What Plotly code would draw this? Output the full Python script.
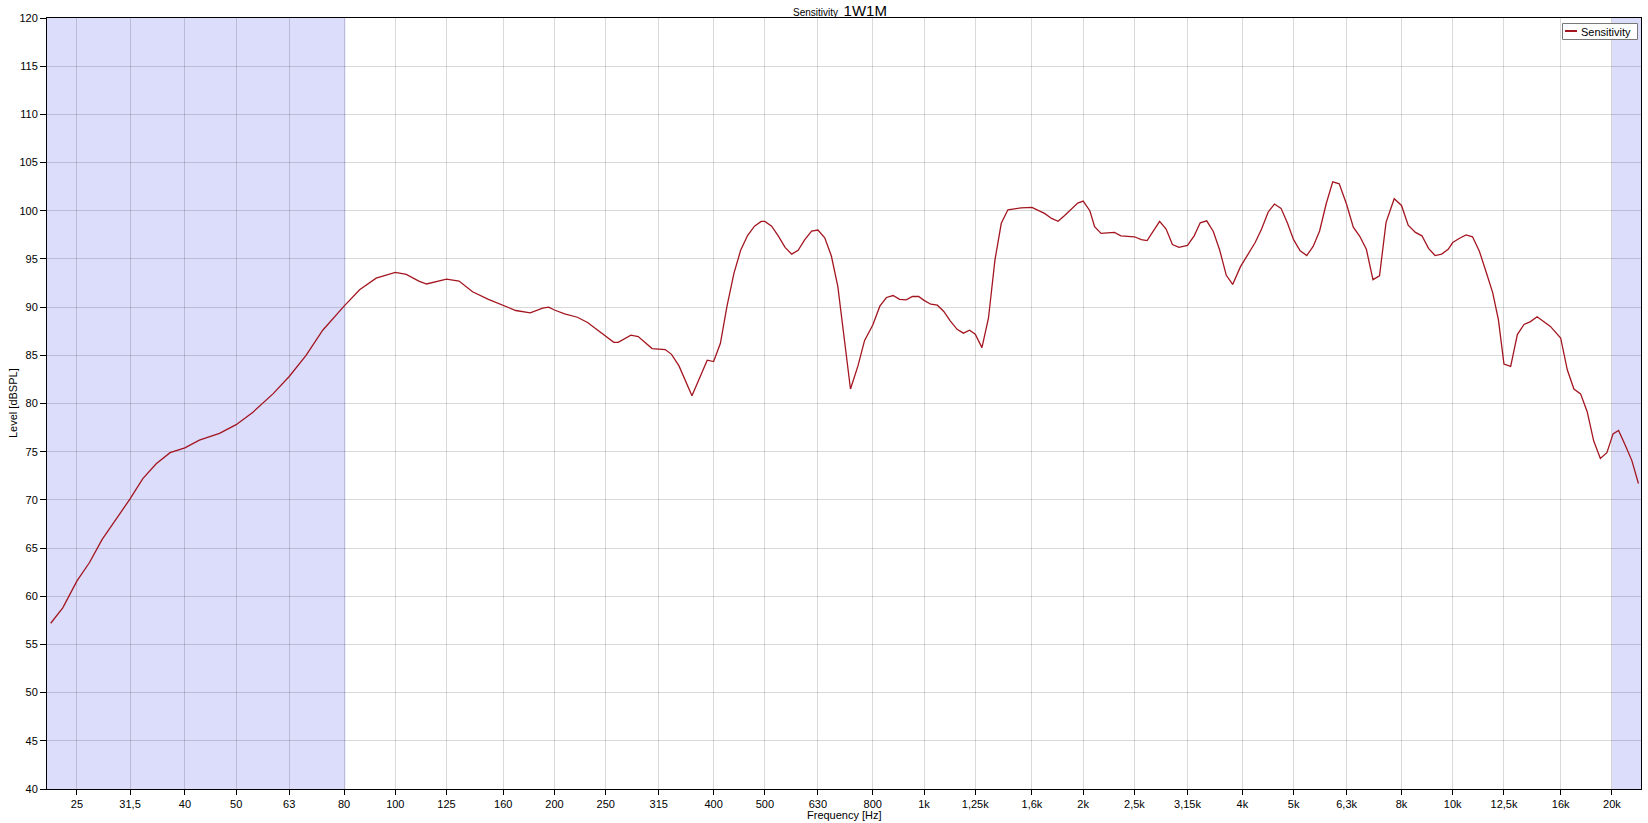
import numpy as np
import plotly.graph_objects as go

# ---------------- data ----------------
freq_hz = [
    22.3, 23.5, 25, 26.4, 27.9, 29.7, 31.5, 33.3, 35.3, 37.5, 40, 42.6, 46.5, 50, 53.8, 58.7,
    63, 67.8, 72.9, 80, 85.6, 92, 100, 104.9, 110.8, 114.6, 120, 125, 132, 140, 150, 160,
    169, 180, 190, 195, 200, 209, 221, 231, 243, 250, 259, 264, 279, 288, 306, 324, 333,
    344, 364, 389, 400, 412, 424, 437, 450, 464, 478, 492, 500, 515, 530, 546, 562, 578,
    595, 613, 630, 649, 668, 687, 707, 726, 750, 772, 800, 825, 849, 874, 899, 925, 951,
    977, 1000, 1030, 1060, 1090, 1120, 1155, 1187, 1220, 1250, 1287, 1324, 1362, 1400,
    1441, 1483, 1526, 1600, 1645, 1693, 1743, 1793, 1845, 1898, 1953, 2000, 2059, 2102,
    2162, 2222, 2292, 2357, 2500, 2576, 2642, 2790, 2870, 2950, 3035, 3150, 3243, 3330,
    3425, 3525, 3625, 3730, 3835, 3968, 4111, 4230, 4350, 4475, 4600, 4735, 4870, 5000,
    5146, 5295, 5445, 5600, 5765, 5930, 6100, 6300, 6485, 6670, 6865, 7065, 7270, 7480,
    7750, 8000, 8236, 8500, 8745, 9000, 9260, 9530, 9805, 10000, 10300, 10600, 10900,
    11230, 11550, 11900, 12200, 12500, 12870, 13250, 13640, 14030, 14440, 14860, 15300,
    16000, 16470, 16950, 17450, 17960, 18480, 19020, 19570, 20100, 20590, 21190, 21810,
    22450,
]
level_db = [
    57.2, 58.8, 61.6, 63.5, 65.9, 68.0, 70.1, 72.2, 73.75, 74.9, 75.4, 76.2, 76.9, 77.8, 79.1, 81.0,
    82.8, 85.0, 87.6, 90.1, 91.8, 93.0, 93.6, 93.4, 92.7, 92.4, 92.7, 92.9, 92.7, 91.6, 90.8, 90.2,
    89.65, 89.4, 89.9, 90.0, 89.7, 89.3, 88.95, 88.4, 87.5, 86.9, 86.35, 86.35, 87.1, 86.95, 85.7, 85.6, 85.1,
    83.9, 80.8, 84.5, 84.35, 86.25, 90.1, 93.5, 95.9, 97.45, 98.4, 98.9, 98.9, 98.4, 97.4, 96.2, 95.5, 95.9,
    97.0, 97.9, 98.0, 97.2, 95.3, 92.15, 86.9, 81.5, 83.9, 86.55, 88.15, 90.1, 91.0, 91.2, 90.8, 90.75, 91.1,
    91.1, 90.7, 90.3, 90.2, 89.55, 88.6, 87.7, 87.3, 87.6, 87.2, 85.8, 88.85, 94.9, 98.7,
    100.1, 100.2, 100.3, 100.35, 100.0, 99.7, 99.2, 98.9, 99.5, 100.1, 100.8, 101.0, 100.0, 98.35,
    97.65, 97.7, 97.75, 97.4, 97.3, 97.0, 96.9, 98.9, 98.1, 96.5, 96.2, 96.4, 97.4, 98.75,
    98.95, 97.85, 95.9, 93.3, 92.35, 94.2, 95.6, 96.7, 98.1, 99.85, 100.7, 100.25, 98.7, 97.0,
    95.85, 95.35, 96.3, 97.9, 100.75, 103.0, 102.8, 100.65, 98.3, 97.35, 96.0, 92.85, 93.25, 98.8,
    101.25, 100.55, 98.5, 97.75, 97.4, 96.1, 95.35, 95.5, 96.0, 96.7, 97.15, 97.5, 97.3,
    95.8, 93.75, 91.5, 88.7, 84.1, 83.85, 87.15, 88.2, 88.5, 89.0, 88.5, 88.0,
    86.8, 83.5, 81.5, 81.0, 79.15, 76.1, 74.3, 74.9, 76.85, 77.2, 75.7, 74.1,
    71.7,
]
tick_vals = [25, 31.5, 40, 50, 63, 80, 100, 125, 160, 200, 250, 315, 400, 500, 630, 800,
             1000, 1250, 1600, 2000, 2500, 3150, 4000, 5000, 6300, 8000, 10000, 12500,
             16000, 20000]
tick_text = ["25", "31,5", "40", "50", "63", "80", "100", "125", "160", "200", "250", "315",
             "400", "500", "630", "800", "1k", "1,25k", "1,6k", "2k", "2,5k", "3,15k", "4k",
             "5k", "6,3k", "8k", "10k", "12,5k", "16k", "20k"]
y_ticks = list(range(40, 121, 5))
band_low = [21.94, 80.5]
band_high = [20000, 22703]

# ---------------- figure ----------------
W, H = 1648, 823
L, R, T, B = 47, 7, 18, 34
pw, ph = W - L - R, H - T - B
FONT = "Liberation Sans, Arial, sans-serif"
LINE = "rgb(163,22,32)"


def px_x(px):
    return (px - L) / pw


def px_y(py):
    return (H - B - py) / ph


fig = go.Figure()
fig.add_trace(go.Scatter(x=freq_hz, y=level_db, mode="lines", name="Sensitivity",
                         line=dict(color=LINE, width=1.3), showlegend=False))

shapes = []
for lo, hi in (band_low, band_high):
    shapes.append(dict(type="rect", xref="x", yref="paper", x0=lo, x1=hi,
                       y0=0, y1=1, fillcolor="rgb(220,220,251)", line=dict(width=0),
                       layer="below"))
# legend box
shapes.append(dict(type="rect", xref="paper", yref="paper", x0=px_x(1562.5), x1=px_x(1637.5),
                   y0=px_y(39.5), y1=px_y(23.5), fillcolor="white",
                   line=dict(color="rgb(120,120,120)", width=1), layer="above"))
shapes.append(dict(type="line", xref="paper", yref="paper", x0=px_x(1565), x1=px_x(1577),
                   y0=px_y(31), y1=px_y(31), line=dict(color=LINE, width=2), layer="above"))

annotations = [
    dict(text="Sensitivity", xref="paper", yref="paper", x=px_x(1579), y=px_y(31.5),
         xanchor="left", yanchor="middle", showarrow=False,
         font=dict(family=FONT, size=11, color="black")),
    dict(text="Frequency [Hz]", xref="paper", yref="paper", x=0.5, y=px_y(815),
         xanchor="center", yanchor="middle", showarrow=False,
         font=dict(family=FONT, size=11, color="black")),
    dict(text="Level [dBSPL]", xref="paper", yref="paper", x=px_x(12.5), y=0.5, textangle=-90,
         xanchor="center", yanchor="middle", showarrow=False,
         font=dict(family=FONT, size=11, color="black")),
    dict(text="Sensitivity&nbsp;&nbsp;<span style='font-size:15px'>1W1M</span>",
         xref="paper", yref="paper", x=px_x(840), y=px_y(10), xanchor="center",
         yanchor="middle", showarrow=False, font=dict(family=FONT, size=10, color="black")),
]

grid_c = "rgba(0,0,0,0.15)"
fig.update_layout(
    width=W, height=H,
    margin=dict(l=L, r=R, t=T, b=B, pad=0),
    paper_bgcolor="white", plot_bgcolor="white",
    font=dict(family=FONT, size=11, color="black"),
    shapes=shapes, annotations=annotations,
    xaxis=dict(type="log", range=[np.log10(band_low[0]), np.log10(band_high[1])],
               tickmode="array", tickvals=tick_vals, ticktext=tick_text,
               showgrid=True, gridcolor=grid_c, gridwidth=1,
               showline=True, linecolor="black", linewidth=1, mirror=True,
               ticks="outside", ticklen=5, tickcolor="black", tickwidth=1,
               tickfont=dict(family=FONT, size=11, color="black"),
               automargin=False, zeroline=False),
    yaxis=dict(range=[40, 120], tickmode="array", tickvals=y_ticks,
               showgrid=True, gridcolor=grid_c, gridwidth=1,
               showline=True, linecolor="black", linewidth=1, mirror=True,
               ticks="outside", ticklen=6, tickcolor="black", tickwidth=1,
               tickfont=dict(family=FONT, size=11, color="black"),
               automargin=False, zeroline=False),
)

fig.write_html("out.html", config={"displayModeBar": False},
               post_script="document.body.style.margin='0';document.body.style.overflow='hidden';")
